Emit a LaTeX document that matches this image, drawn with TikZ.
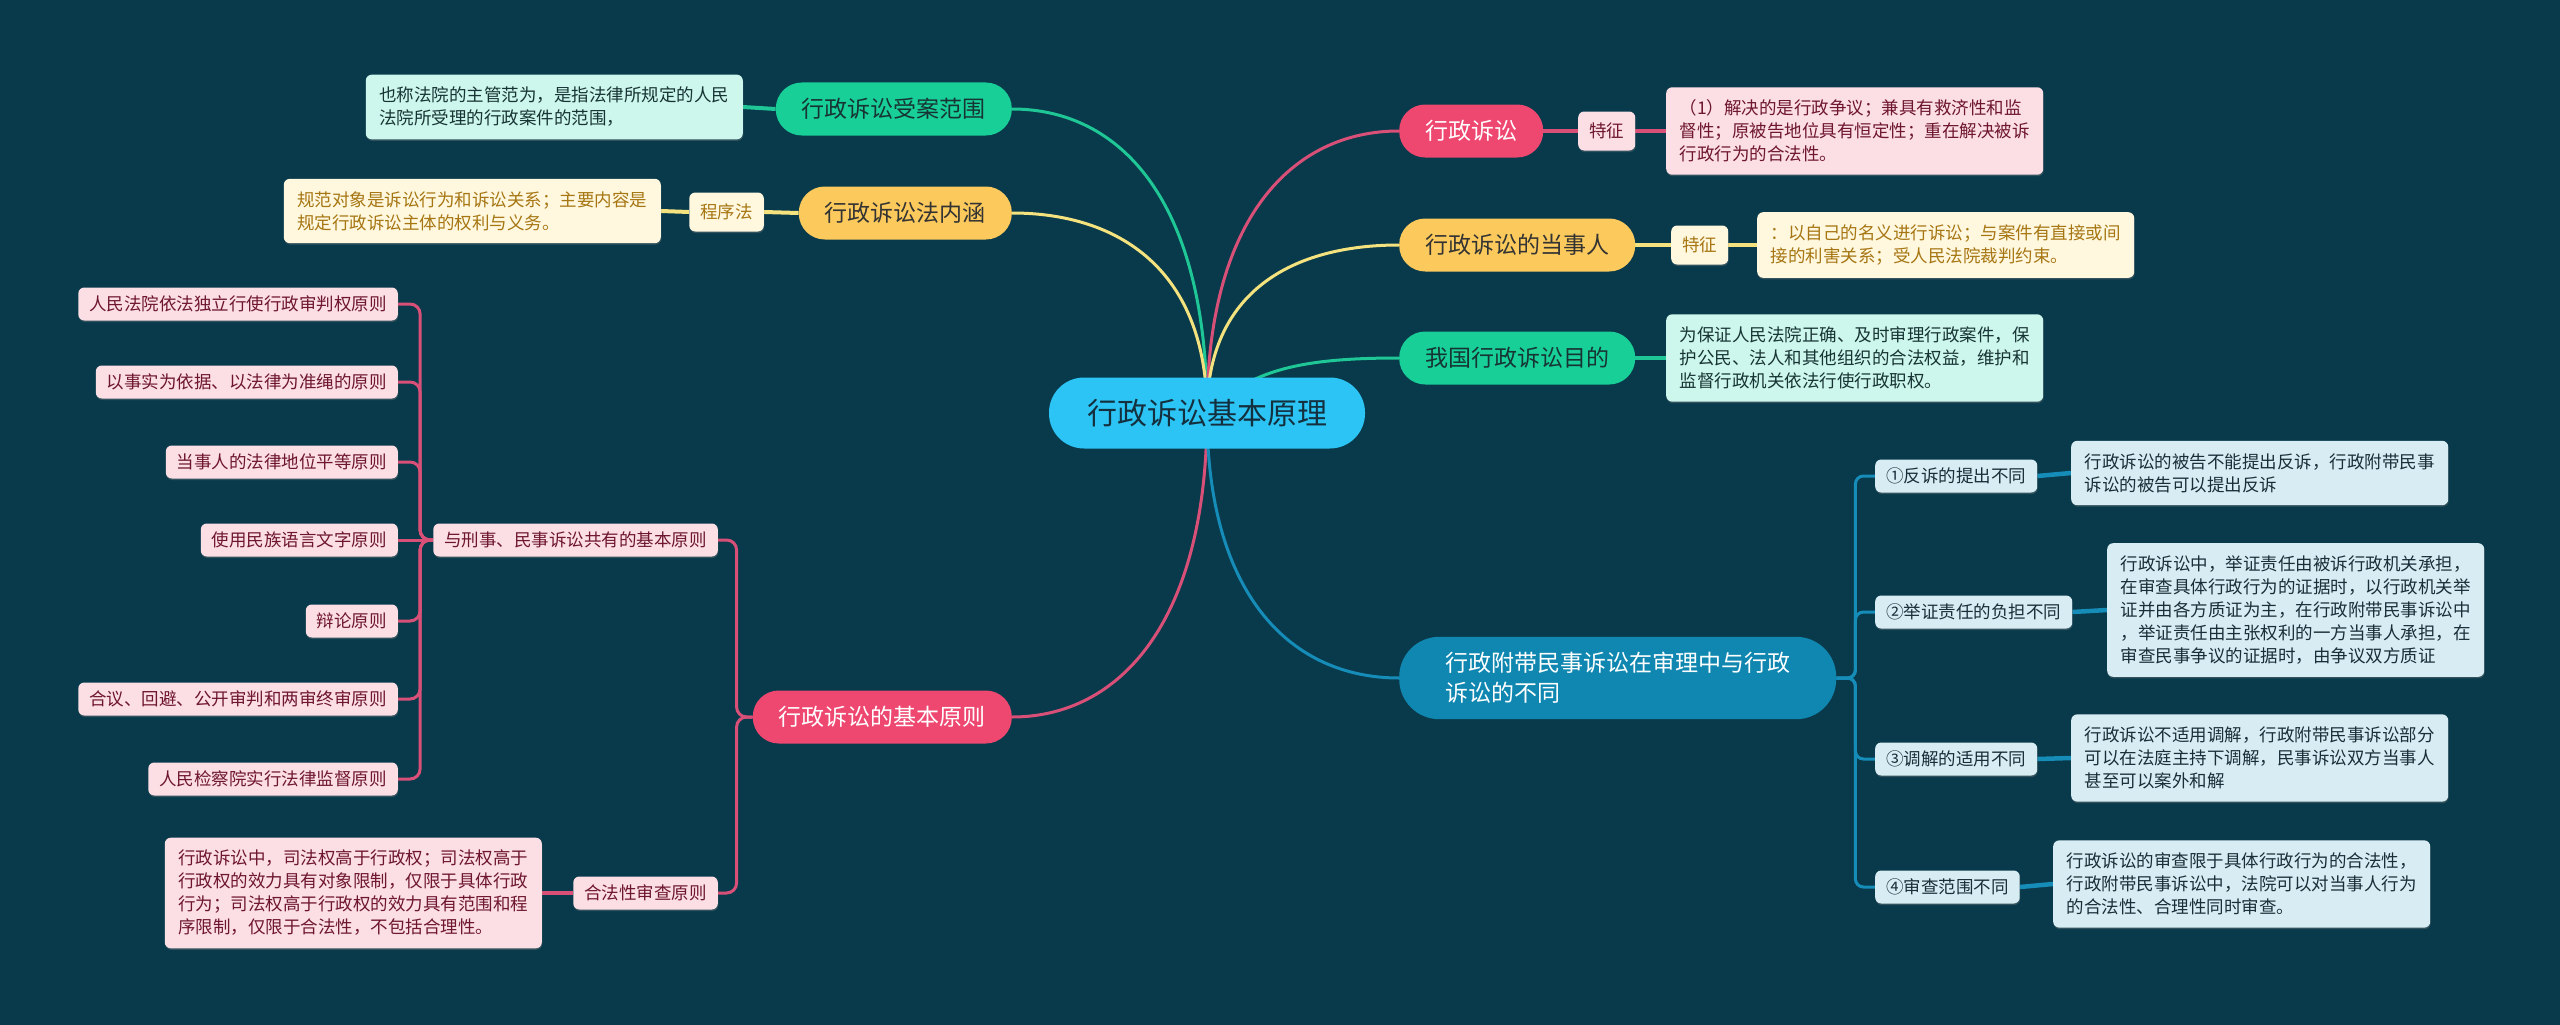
\documentclass[tikz,border=0pt]{standalone}
\usepackage{fontspec}
\setmainfont{Noto Sans CJK SC}
\usetikzlibrary{positioning,backgrounds,shadows}
\definecolor{bgcol}{HTML}{093A4B}
\definecolor{rootcol}{HTML}{2CC4F4}
\definecolor{roottext}{HTML}{14303F}
\definecolor{redcol}{HTML}{EE4770}
\definecolor{redleafcol}{HTML}{FCDEE5}
\definecolor{redtextcol}{HTML}{6E1630}
\definecolor{redlinecol}{HTML}{D85078}
\definecolor{greencol}{HTML}{18CF98}
\definecolor{greenleafcol}{HTML}{CDF6EC}
\definecolor{greentextcol}{HTML}{173434}
\definecolor{greenlinecol}{HTML}{1FC796}
\definecolor{yellowcol}{HTML}{FCCA5C}
\definecolor{yellowleafcol}{HTML}{FFF7DE}
\definecolor{yellowtextcol}{HTML}{A67612}
\definecolor{yellowlinecol}{HTML}{F3E27E}
\definecolor{bluecol}{HTML}{1087B0}
\definecolor{blueleafcol}{HTML}{D8EDF3}
\definecolor{bluetextcol}{HTML}{1A2E3A}
\definecolor{bluelinecol}{HTML}{168CB8}

\begin{document}
\begin{tikzpicture}[
        x=1pt, y=-1pt,
        root/.style={rectangle, fill=rootcol, text=roottext, rounded corners=35pt, minimum height=71pt, inner xsep=38pt, font=\fontsize{30}{36}\selectfont},
        mainbox/.style={rectangle, rounded corners=26pt, minimum height=53pt, inner xsep=26pt, font=\fontsize{23}{30}\selectfont},
        leafbox/.style={rectangle, rounded corners=6pt, inner xsep=13.5pt, inner ysep=12.5pt, text width=350pt, align=left, font=\fontsize{17.5}{23}\selectfont, drop shadow={shadow xshift=0.5pt, shadow yshift=-1.5pt, opacity=0.35}},
        tagbox/.style={rectangle, rounded corners=6pt, minimum height=33pt, inner xsep=11pt, font=\fontsize{17.5}{23}\selectfont, drop shadow={shadow xshift=0.5pt, shadow yshift=-1.5pt, opacity=0.35}},
        redbranch/.style={mainbox, fill=redcol, text=white},
        greenbranch/.style={mainbox, fill=greencol, text=greentextcol},
        yellowbranch/.style={mainbox, fill=yellowcol, text=black!80},
        bluebranch/.style={mainbox, fill=bluecol, text=white},
        redleaf/.style={leafbox, fill=redleafcol, text=redtextcol},
        greenleaf/.style={leafbox, fill=greenleafcol, text=greentextcol},
        yellowleaf/.style={leafbox, fill=yellowleafcol, text=yellowtextcol},
        blueleaf/.style={leafbox, fill=blueleafcol, text=bluetextcol},
        redtag/.style={tagbox, fill=redleafcol, text=redtextcol},
        yellowtag/.style={tagbox, fill=yellowleafcol, text=yellowtextcol},
        bluetag/.style={tagbox, fill=blueleafcol, text=bluetextcol},
        redline/.style={draw=redlinecol, line width=3pt},
        greenline/.style={draw=greenlinecol, line width=3pt},
        yellowline/.style={draw=yellowlinecol, line width=3pt},
        blueline/.style={draw=bluelinecol, line width=3pt}
    ]
    \useasboundingbox (0,0) rectangle (2560,1025);

    % --- Root ---
    \node[root] (root) at (1207,413) {行政诉讼基本原理};

    % --- Right branches ---
    \node[redbranch, anchor=west] (xzss) at (1399,131) {行政诉讼};
    \node[redtag, anchor=west, minimum height=39pt] (xzss_tz) at (1578,131) {特征};
    \node[redleaf, anchor=west] (xzss_txt) at (1666,131) {（1）解决的是行政争议；兼具有救济性和监\\督性；原被告地位具有恒定性；重在解决被诉\\行政行为的合法性。};

    \node[yellowbranch, anchor=west] (dsr) at (1399,245) {行政诉讼的当事人};
    \node[yellowtag, anchor=west, minimum height=39pt] (dsr_tz) at (1671,245) {特征};
    \node[yellowleaf, anchor=west] (dsr_txt) at (1757,245) {：以自己的名义进行诉讼；与案件有直接或间\\接的利害关系；受人民法院裁判约束。};

    \node[greenbranch, anchor=west] (mudi) at (1399,358) {我国行政诉讼目的};
    \node[greenleaf, anchor=west] (mudi_txt) at (1666,358) {为保证人民法院正确、及时审理行政案件，保\\护公民、法人和其他组织的合法权益，维护和\\监督行政机关依法行使行政职权。};

    \node[bluebranch, anchor=west, align=left, rounded corners=40pt, inner xsep=46pt, inner ysep=15.5pt] (fudai) at (1399,678) {行政附带民事诉讼在审理中与行政\\诉讼的不同};
    \node[bluetag, anchor=west] (fd1) at (1875,476) {①反诉的提出不同};
    \node[blueleaf, anchor=west] (fd1_txt) at (2071,473) {行政诉讼的被告不能提出反诉，行政附带民事\\诉讼的被告可以提出反诉};
    \node[bluetag, anchor=west] (fd2) at (1875,612) {②举证责任的负担不同};
    \node[blueleaf, anchor=west] (fd2_txt) at (2107,610) {行政诉讼中，举证责任由被诉行政机关承担，\\在审查具体行政行为的证据时，以行政机关举\\证并由各方质证为主，在行政附带民事诉讼中\\，举证责任由主张权利的一方当事人承担，在\\审查民事争议的证据时，由争议双方质证};
    \node[bluetag, anchor=west] (fd3) at (1875,759) {③调解的适用不同};
    \node[blueleaf, anchor=west] (fd3_txt) at (2071,758) {行政诉讼不适用调解，行政附带民事诉讼部分\\可以在法庭主持下调解，民事诉讼双方当事人\\甚至可以案外和解};
    \node[bluetag, anchor=west] (fd4) at (1875,887) {④审查范围不同};
    \node[blueleaf, anchor=west] (fd4_txt) at (2053,884) {行政诉讼的审查限于具体行政行为的合法性，\\行政附带民事诉讼中，法院可以对当事人行为\\的合法性、合理性同时审查。};

    % --- Left branches ---
    \node[greenbranch, anchor=east] (slfw) at (1012,109) {行政诉讼受案范围};
    \node[greenleaf, anchor=east] (slfw_txt) at (743,107) {也称法院的主管范为，是指法律所规定的人民\\法院所受理的行政案件的范围，};

    \node[yellowbranch, anchor=east] (fnh) at (1012,213) {行政诉讼法内涵};
    \node[yellowtag, anchor=east, minimum height=39pt] (cxf) at (764,212) {程序法};
    \node[yellowleaf, anchor=east] (fnh_txt) at (661,211) {规范对象是诉讼行为和诉讼关系；主要内容是\\规定行政诉讼主体的权利与义务。};

    \node[redbranch, anchor=east] (jbyz) at (1012,717) {行政诉讼的基本原则};
    \node[redtag, anchor=east] (gy) at (718,540) {与刑事、民事诉讼共有的基本原则};
    \node[redtag, anchor=east] (gy1) at (398,304) {人民法院依法独立行使行政审判权原则};
    \node[redtag, anchor=east] (gy2) at (398,382) {以事实为依据、以法律为准绳的原则};
    \node[redtag, anchor=east] (gy3) at (398,462) {当事人的法律地位平等原则};
    \node[redtag, anchor=east] (gy4) at (398,540) {使用民族语言文字原则};
    \node[redtag, anchor=east] (gy5) at (398,621) {辩论原则};
    \node[redtag, anchor=east] (gy6) at (398,699) {合议、回避、公开审判和两审终审原则};
    \node[redtag, anchor=east] (gy7) at (398,779) {人民检察院实行法律监督原则};
    \node[redtag, anchor=east] (hfx) at (718,893) {合法性审查原则};
    \node[redleaf, anchor=east] (hfx_txt) at (542,893) {行政诉讼中，司法权高于行政权；司法权高于\\行政权的效力具有对象限制，仅限于具体行政\\行为；司法权高于行政权的效力具有范围和程\\序限制，仅限于合法性，不包括合理性。};

    \begin{scope}[on background layer]
    \fill[bgcol] (0,0) rectangle (2560,1025);

    % root connections
    \draw[greenline] (root.center) .. controls (1207,200) and (1120,109) .. (slfw.east);
    \draw[yellowline] (root.center) .. controls (1207,270) and (1119,213) .. (fnh.east);
    \draw[redline] (root.center) .. controls (1207,217) and (1293,131) .. (xzss.west);
    \draw[yellowline] (root.center) .. controls (1207,291) and (1293,245) .. (dsr.west);
    \draw[greenline] (root.center) .. controls (1250,370) and (1300,358) .. (mudi.west);
    \draw[redline] (root.center) .. controls (1207,623) and (1119,717) .. (jbyz.east);
    \draw[blueline] (root.center) .. controls (1207,598) and (1293,678) .. (fudai.west);

    % right details
    \draw[redline, line width=4pt] (xzss.east) -- (xzss_tz.west);
    \draw[redline, line width=4pt] (xzss_tz.east) -- (xzss_txt.west);
    \draw[yellowline, line width=4pt] (dsr.east) -- (dsr_tz.west);
    \draw[yellowline, line width=4pt] (dsr_tz.east) -- (dsr_txt.west);
    \draw[greenline, line width=4pt] (mudi.east) -- (mudi_txt.west);

    \draw[blueline, rounded corners=8pt] (fudai.east) -- ++(19,0) |- (fd1.west);
    \draw[blueline, rounded corners=8pt] (fudai.east) -- ++(19,0) |- (fd2.west);
    \draw[blueline, rounded corners=8pt] (fudai.east) -- ++(19,0) |- (fd3.west);
    \draw[blueline, rounded corners=8pt] (fudai.east) -- ++(19,0) |- (fd4.west);
    \draw[blueline, line width=4.5pt] (fd1.east) -- (fd1_txt.west);
    \draw[blueline, line width=4.5pt] (fd2.east) -- (fd2_txt.west);
    \draw[blueline, line width=4.5pt] (fd3.east) -- (fd3_txt.west);
    \draw[blueline, line width=4.5pt] (fd4.east) -- (fd4_txt.west);

    % left details
    \draw[greenline, line width=4pt] (slfw.west) -- (slfw_txt.east);
    \draw[yellowline, line width=4pt] (fnh.west) -- (cxf.east);
    \draw[yellowline, line width=4pt] (cxf.west) -- (fnh_txt.east);

    \draw[redline, rounded corners=10pt] (jbyz.west) -- ++(-16,0) |- (gy.east);
    \draw[redline, rounded corners=10pt] (jbyz.west) -- ++(-16,0) |- (hfx.east);
    \draw[redline, line width=4pt] (hfx.west) -- (hfx_txt.east);
    \draw[redline, rounded corners=10pt] (gy.west) -- ++(-13,0) |- (gy1.east);
    \draw[redline, rounded corners=10pt] (gy.west) -- ++(-13,0) |- (gy2.east);
    \draw[redline, rounded corners=10pt] (gy.west) -- ++(-13,0) |- (gy3.east);
    \draw[redline] (gy.west) -- (gy4.east);
    \draw[redline, rounded corners=10pt] (gy.west) -- ++(-13,0) |- (gy5.east);
    \draw[redline, rounded corners=10pt] (gy.west) -- ++(-13,0) |- (gy6.east);
    \draw[redline, rounded corners=10pt] (gy.west) -- ++(-13,0) |- (gy7.east);
    \end{scope}
\end{tikzpicture}
\end{document}
